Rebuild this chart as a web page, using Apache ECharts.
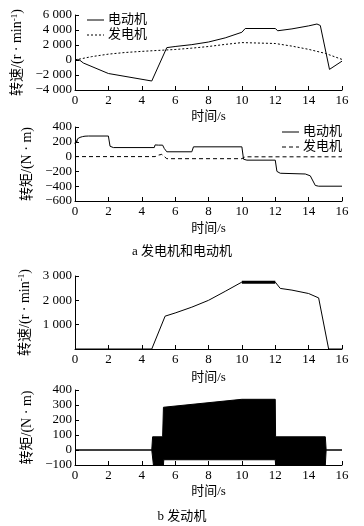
<!DOCTYPE html>
<html><head><meta charset="utf-8">
<script src="https://cdn.jsdelivr.net/npm/echarts@6/dist/echarts.min.js"></script>
<style>html,body{margin:0;padding:0;background:#fff}#c{width:364px;height:526px}</style>
</head><body><div id="c"></div>
<script>
// ---- data ----
var xTicks = [0, 2, 4, 6, 8, 10, 12, 14, 16];
var legendNames = ['电动机', '发电机'];
// chart a1: speed (r/min)
var motorSpeed = [[0,0],[0.08,-200],[0.15,80],[0.22,-150],[0.3,-50],[0.5,-400],[2,-1800],[2.1,-1950],[4.6,-2800],[5.5,1650],[6,1800],[7,2050],[8,2400],[9,2950],[10,3700],[10.2,4200],[12,4200],[12.15,3900],[13,4150],[14,4550],[14.5,4800],[14.7,4600],[15.25,-1250],[16,-150]];
var genSpeed = [[0,0],[1,450],[2,780],[3,1000],[4,1150],[5,1280],[6,1400],[7,1580],[8,1800],[9,2080],[10,2320],[12,2200],[13,1850],[14,1420],[15,880],[16,80]];
// chart a2: torque (N·m)
var motorTorque = [[0,170],[0.05,220],[0.1,190],[0.15,240],[0.2,215],[0.3,260],[0.35,240],[0.45,270],[0.5,252],[0.6,276],[0.7,262],[0.8,278],[2,278],[2.1,140],[2.3,122],[4.75,122],[4.8,158],[4.85,135],[5.0,155],[5.25,155],[5.35,110],[5.5,65],[7,65],[7.1,132],[10,132],[10.1,-35],[10.3,-48],[12,-48],[12.1,-200],[12.3,-225],[13.8,-235],[14.1,-260],[14.4,-390],[14.6,-400],[16,-400]];
var genTorque = [[0,0],[4.8,0],[5.0,20],[5.2,30],[5.5,-28],[10,-28],[10.2,-3],[16,-3]];
// chart b1: engine speed
var engineSpeed = [[0,0],[4.6,0],[5.4,1350],[6,1480],[7,1720],[8,2000],[9,2370],[10,2750],[12,2750],[12.3,2490],[13,2420],[14,2280],[14.6,2100],[15.2,0],[16,0]];
var engineSpeedBand = [[10,2740],[12,2740]];
// chart b2: engine torque envelope (dense oscillation)
var engineTorqueUpper = [[0,0],[4.6,0],[4.65,88],[5.25,88],[5.3,285],[10,338],[12,338],[12.02,88],[15.0,88],[15.05,0],[16,0]];
var engineTorqueLower = [[0,0],[4.6,0],[4.7,-100],[5.3,-100],[5.32,-65],[12,-65],[12.02,-100],[15.0,-100],[15.05,0],[16,0]];
var captions = ['a 发电机和电动机', 'b 发动机'];

// ---- chart ----
var FONT = "'Liberation Serif','Noto Sans CJK SC',serif";
function fmt(v){ var s = Math.abs(v).toString(); if (Math.abs(v) >= 1000) s = s.slice(0, s.length-3) + ' ' + s.slice(-3); return (v < 0 ? '−' : '') + s; }
var grids = [
  {left:75, right:22, top:15, height:75},
  {left:75, right:22, top:127, height:74},
  {left:75, right:22, top:276, height:73},
  {left:75, right:22, top:390, height:75}
];
function xAxis(i, gap){ return {type:'value', gridIndex:i, min:0, max:16, interval:2, name:'时间/s', nameLocation:'middle', nameGap:gap,
  nameTextStyle:{fontFamily:FONT, fontSize:13, color:'#000'},
  axisLine:{onZero:false, lineStyle:{color:'#000', width:1}}, axisTick:{inside:true, length:4, lineStyle:{color:'#000'}},
  axisLabel:{fontFamily:FONT, fontSize:13, color:'#000', margin:4}, splitLine:{show:false}}; }
function yAxis(i, min, max, iv, name, gap, hideZero){ return {type:'value', gridIndex:i, min:min, max:max, interval:iv, name:name, nameLocation:'middle', nameGap:gap,
  nameTextStyle:{fontFamily:FONT, fontSize:14, color:'#000', rich:{sup:{fontFamily:FONT, fontSize:9, color:'#000', verticalAlign:'top', padding:[0,0,6,0]}}},
  axisLine:{show:true, lineStyle:{color:'#000', width:1}}, axisTick:{inside:true, length:4, lineStyle:{color:'#000'}},
  axisLabel:{fontFamily:FONT, fontSize:13, color:'#000', margin:3, formatter:function(v){ return (hideZero && v===0) ? '' : fmt(v); }}, splitLine:{show:false}}; }
function line(name, xi, data, type, width){ return {type:'line', name:name, xAxisIndex:xi, yAxisIndex:xi, data:data, showSymbol:false, symbol:'none', animation:false,
  lineStyle:{color:'#000', width:width||1, type:type||'solid'}, itemStyle:{color:'#000'}}; }
function legendItems(x, y, dash){
  var out = [];
  legendNames.forEach(function(n, k){
    var yy = y + k*15;
    out.push({type:'line', shape:{x1:x, y1:yy, x2:x+17, y2:yy}, style:{stroke:'#000', lineWidth:1, lineDash:k===1 ? dash : null}});
    out.push({type:'text', x:x+21, y:yy, style:{text:n, font:'13px '+FONT, fill:'#000', textVerticalAlign:'middle', verticalAlign:'middle'}});
  });
  return out;
}
var option = {
  backgroundColor:'#fff', animation:false,
  grid: grids,
  xAxis:[xAxis(0, 20), xAxis(1, 21), xAxis(2, 22), xAxis(3, 20)],
  yAxis:[
    yAxis(0, -4000, 6000, 2000, '转速/(r · min{sup|-1})', 31),
    yAxis(1, -600, 400, 200, '转矩/(N · m)', 28),
    yAxis(2, 0, 3000, 1000, '转速/(r · min{sup|-1})', 29, true),
    yAxis(3, -100, 400, 100, '转矩/(N · m)', 28)
  ],
  series:[
    line('电动机', 0, motorSpeed),
    line('发电机', 0, genSpeed, [2,2]),
    line('电动机', 1, motorTorque),
    line('发电机', 1, genTorque, [4,3]),
    line('发动机转速', 2, engineSpeed),
    line('发动机转速带', 2, engineSpeedBand, 'solid', 3),
    Object.assign(line('发动机转矩上', 3, engineTorqueUpper), {areaStyle:{color:'#000', opacity:1}}),
    Object.assign(line('发动机转矩下', 3, engineTorqueLower), {areaStyle:{color:'#000', opacity:1}})
  ],
  graphic:[].concat(
    legendItems(87, 20, [2,2]),
    legendItems(282, 132, [4,3]),
    [
      {type:'text', left:'center', top:245, style:{text:captions[0], font:'13px '+FONT, fill:'#000'}},
      {type:'text', left:'center', top:510, style:{text:captions[1], font:'13px '+FONT, fill:'#000'}}
    ])
};
echarts.init(document.getElementById('c')).setOption(option);
</script></body></html>
